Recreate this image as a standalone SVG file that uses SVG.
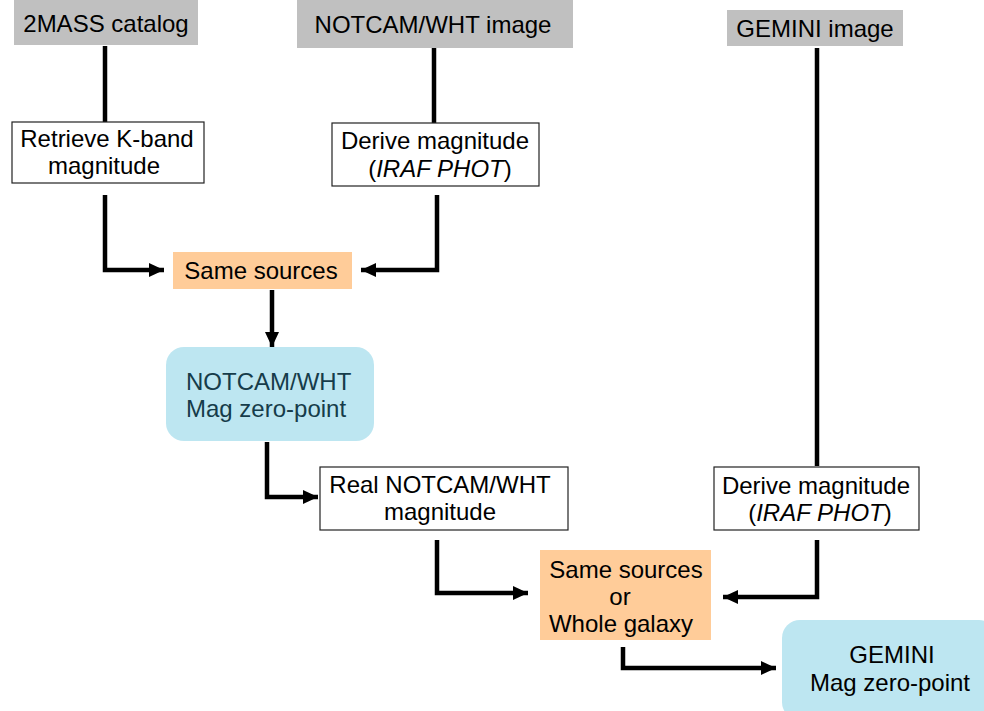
<svg xmlns="http://www.w3.org/2000/svg" width="984" height="711" viewBox="0 0 984 711">
<defs>
<marker id="ah" markerUnits="userSpaceOnUse" markerWidth="16" markerHeight="14" refX="15" refY="7" orient="auto">
<path d="M0,0 L15,7 L0,14 Z" fill="#000"/>
</marker>
<style>
text{font-family:"Liberation Sans",Arial,sans-serif;font-size:24px;fill:#000;text-anchor:middle}
.src{fill:#c0c0c0}
.box{fill:#fff;stroke:#222;stroke-width:1.2}
.org{fill:#ffcc99}
.blu{fill:#bde6f1}
.conn{fill:none;stroke:#000;stroke-width:4.5}
.dk{fill:#163c4a}
</style>
</defs>
<rect width="984" height="711" fill="#fff"/>
<g id="connectors">
<path class="conn" d="M105,46 V122"/>
<path class="conn" d="M434,48 V123"/>
<path class="conn" d="M817,48 V466"/>
<path class="conn" d="M105,195 V270 H164" marker-end="url(#ah)"/>
<path class="conn" d="M437,195 V270 H361" marker-end="url(#ah)"/>
<path class="conn" d="M272,290 V347" marker-end="url(#ah)"/>
<path class="conn" d="M267,442 V497 H318" marker-end="url(#ah)"/>
<path class="conn" d="M437,540 V593 H528" marker-end="url(#ah)"/>
<path class="conn" d="M817,540 V597 H723" marker-end="url(#ah)"/>
<path class="conn" d="M623,647 V668 H776" marker-end="url(#ah)"/>
</g>
<g id="n2mass"><rect class="src" x="14" y="0" width="184" height="45"/><text x="106" y="32">2MASS catalog</text></g>
<g id="nnotcam"><rect class="src" x="297" y="0" width="276" height="48"/><text x="433" y="33">NOTCAM/WHT image</text></g>
<g id="ngemini"><rect class="src" x="727" y="10" width="176" height="36"/><text x="815" y="37">GEMINI image</text></g>
<g id="nretrieve"><rect class="box" x="12" y="122" width="192" height="61"/><text x="107" y="147">Retrieve K-band</text><text x="104" y="174">magnitude</text></g>
<g id="nderive1"><rect class="box" x="332" y="123" width="207" height="63"/><text x="435" y="149">Derive magnitude</text><text x="440" y="177">(<tspan font-style="italic">IRAF PHOT</tspan>)</text></g>
<g id="nsame1"><rect class="org" x="173" y="252" width="179" height="37"/><text x="261" y="279">Same sources</text></g>
<g id="nzp1"><rect class="blu" x="166" y="347" width="208" height="94" rx="18"/><text class="dk" x="186" y="390" style="text-anchor:start">NOTCAM/WHT</text><text class="dk" x="186" y="417" style="text-anchor:start">Mag zero-point</text></g>
<g id="nreal"><rect class="box" x="320" y="467" width="248" height="63"/><text x="440" y="493">Real NOTCAM/WHT</text><text x="440" y="520">magnitude</text></g>
<g id="nderive2"><rect class="box" x="714" y="467" width="205" height="63"/><text x="816" y="494">Derive magnitude</text><text x="820" y="521">(<tspan font-style="italic">IRAF PHOT</tspan>)</text></g>
<g id="nsame2"><rect class="org" x="540" y="550" width="171" height="90"/><text x="626" y="578">Same sources</text><text x="620" y="605">or</text><text x="621" y="632">Whole galaxy</text></g>
<g id="nzp2"><rect class="blu" x="782" y="620" width="215" height="100" rx="18"/><text x="892" y="663">GEMINI</text><text x="890" y="691">Mag zero-point</text></g>
</svg>
